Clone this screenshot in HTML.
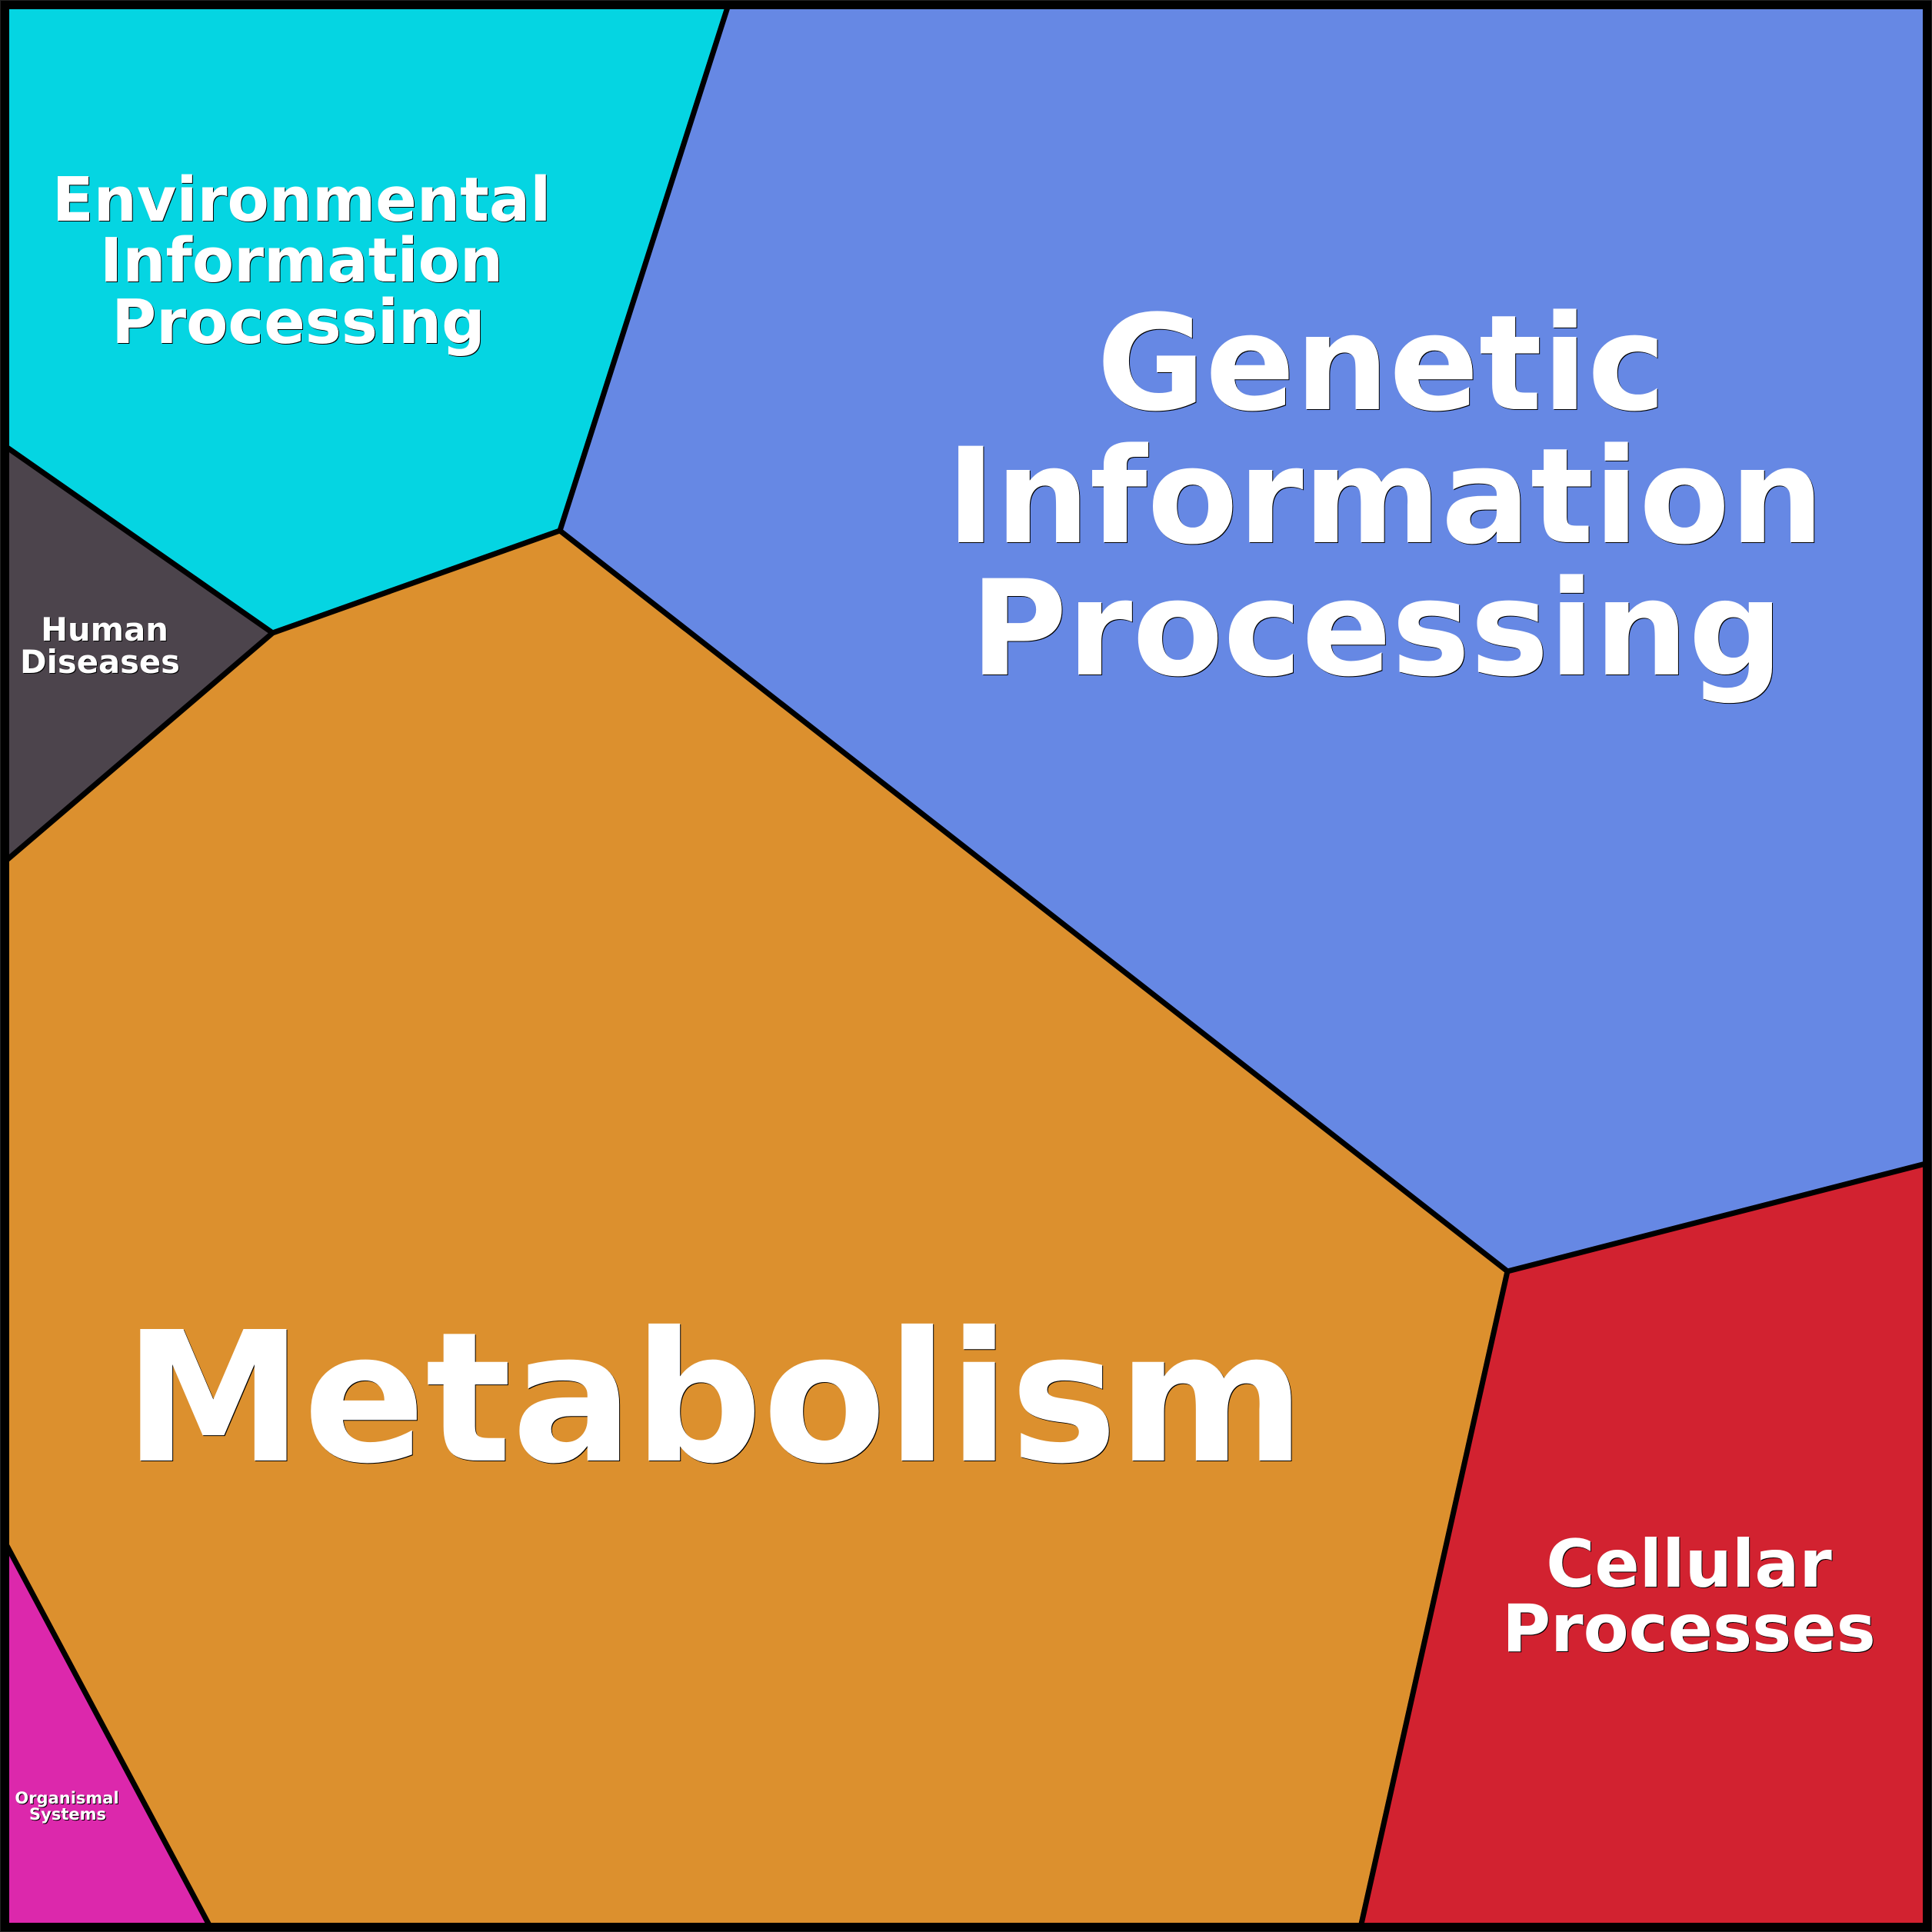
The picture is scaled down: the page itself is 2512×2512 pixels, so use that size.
<!DOCTYPE html>
<html><head><meta charset="utf-8"><style>
html,body{margin:0;padding:0;background:#000}
svg{display:block}
text{font-family:"DejaVu Sans",sans-serif;font-weight:bold;fill:#fff;text-anchor:middle;filter:drop-shadow(1.5px 1.5px 0 #000)}
polygon{stroke:#000;stroke-width:7;stroke-linejoin:miter}
</style></head><body>
<svg xmlns="http://www.w3.org/2000/svg" width="2512" height="2512" viewBox="0 0 2512 2512">
<rect width="2512" height="2512" fill="#000"/>
<polygon fill="#05D5E2" points="8,8 946.5,8 728,690 354.5,823 8,581"/>
<polygon fill="#6688E4" points="946.5,8 2504,8 2504,1513 1960,1653 728,690"/>
<polygon fill="#4C444C" points="8,581 354.5,823 8,1119"/>
<polygon fill="#DC902E" points="728,690 1960,1653 1769.5,2504 272.5,2504 8,2008 8,1119 354.5,823"/>
<polygon fill="#D22230" points="1960,1653 2504,1513 2504,2504 1769.5,2504"/>
<polygon fill="#DC28AC" points="8,2008 272.5,2504 8,2504"/>
<rect x="6" y="6" width="2500" height="2500" fill="none" stroke="#000" stroke-width="12"/>
<rect x="0.5" y="0.5" width="2511" height="2511" fill="none" stroke="#222" stroke-width="1"/>
<g font-size="79">
<text x="392" y="287">Environmental</text>
<text x="392" y="366">Information</text>
<text x="388" y="446">Processing</text>
</g>
<g font-size="172">
<text x="1796" y="532">Genetic</text>
<text x="1801" y="705">Information</text>
<text x="1790" y="877">Processing</text>
</g>
<text x="929" y="1899" font-size="234.5">Metabolism</text>
<g font-size="86">
<text x="2196" y="2063">Cellular</text>
<text x="2196" y="2147">Processes</text>
</g>
<g font-size="41.7">
<text x="136" y="833">Human</text>
<text x="130" y="875">Diseases</text>
</g>
<g font-size="21">
<text x="87" y="2345">Organismal</text>
<text x="88" y="2366">Systems</text>
</g>
</svg>
</body></html>
